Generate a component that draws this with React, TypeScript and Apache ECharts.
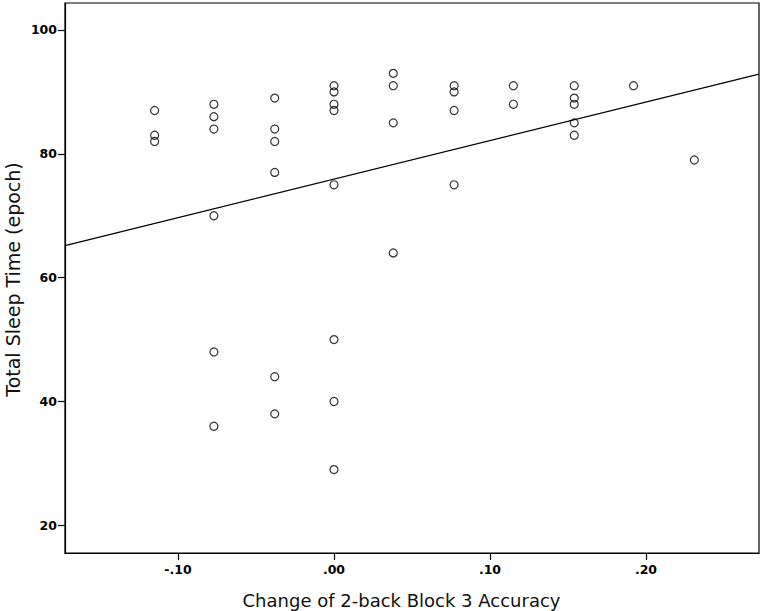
import React, { useEffect, useRef } from "react";
import * as echarts from "echarts";

// Change of 2-back Block 3 Accuracy (x) paired with Total Sleep Time in epochs (y)
const accuracyChange = [
  -0.115, -0.115, -0.115,
  -0.077, -0.077, -0.077, -0.077, -0.077, -0.077,
  -0.038, -0.038, -0.038, -0.038, -0.038, -0.038,
  0, 0, 0, 0, 0, 0, 0, 0,
  0.038, 0.038, 0.038, 0.038,
  0.077, 0.077, 0.077, 0.077,
  0.115, 0.115,
  0.154, 0.154, 0.154, 0.154, 0.154,
  0.192,
  0.231,
];
const totalSleep = [
  87, 83, 82,
  88, 86, 84, 70, 48, 36,
  89, 84, 82, 77, 44, 38,
  91, 90, 88, 87, 75, 50, 40, 29,
  93, 91, 85, 64,
  91, 90, 87, 75,
  91, 88,
  91, 89, 88, 85, 83,
  91,
  79,
];
const xTicks = [-0.1, 0, 0.1, 0.2];
const yTicks = [20, 40, 60, 80, 100];
const xRange = [-0.17244, 0.27244];
const yRange = [15.53, 104.36];
const xTitle = "Change of 2-back Block 3 Accuracy";
const yTitle = "Total Sleep Time (epoch)";

function fitLine(xs: number[], ys: number[]) {
  const n = xs.length;
  const mx = xs.reduce((a, b) => a + b, 0) / n;
  const my = ys.reduce((a, b) => a + b, 0) / n;
  let sxy = 0;
  let sxx = 0;
  for (let i = 0; i < n; i++) {
    sxy += (xs[i] - mx) * (ys[i] - my);
    sxx += (xs[i] - mx) * (xs[i] - mx);
  }
  const b = sxy / sxx;
  const a = my - b * mx;
  return { a, b };
}

function fmtX(v: number) {
  const s = v.toFixed(2);
  return s.replace(/^(-?)0\./, "$1.");
}

export default function App() {
  const ref = useRef<HTMLDivElement>(null);
  useEffect(() => {
    if (!ref.current) return;
    const chart = echarts.init(ref.current, undefined, { renderer: "svg" });
    const points = accuracyChange.map((x, i) => [x, totalSleep[i]]);
    const { a, b } = fitLine(accuracyChange, totalSleep);
    const linePts = xRange.map((x) => [x, a + b * x]);
    const tickFont = {
      fontFamily: "DejaVu Sans",
      fontWeight: "bold" as const,
      fontSize: 12.5,
      color: "#000",
    };
    chart.setOption({
      animation: false,
      backgroundColor: "#fff",
      grid: {
        left: 65,
        right: 3,
        top: 3,
        bottom: 58,
        show: true,
        borderColor: "#000",
        borderWidth: 1.2,
        backgroundColor: "transparent",
      },
      xAxis: {
        type: "value",
        min: xRange[0],
        max: xRange[1],
        splitLine: { show: false },
        axisLine: { show: true, onZero: false, lineStyle: { color: "#000", width: 1.2 } },
        axisTick: {
          show: true,
          length: 7,
          customValues: xTicks,
          lineStyle: { color: "#000", width: 1.2 },
        },
        axisLabel: {
          ...tickFont,
          margin: 10,
          customValues: xTicks,
          formatter: (v: number) => fmtX(v),
        },
      },
      yAxis: {
        type: "value",
        min: yRange[0],
        max: yRange[1],
        splitLine: { show: false },
        axisLine: { show: true, onZero: false, lineStyle: { color: "#000", width: 1.2 } },
        axisTick: {
          show: true,
          length: 7,
          customValues: yTicks,
          lineStyle: { color: "#000", width: 1.2 },
        },
        axisLabel: {
          ...tickFont,
          margin: 8,
          customValues: yTicks,
          formatter: (v: number) => String(v),
        },
      },
      graphic: [
        {
          type: "text",
          x: 401.5,
          y: 600,
          style: {
            text: xTitle,
            fontFamily: "DejaVu Sans",
            fontSize: 18,
            fill: "#111",
            align: "center",
            verticalAlign: "middle",
          },
        },
        {
          type: "text",
          x: 12.5,
          y: 279.5,
          rotation: Math.PI / 2,
          style: {
            text: yTitle,
            fontFamily: "DejaVu Sans",
            fontSize: 19,
            fill: "#111",
            align: "center",
            verticalAlign: "middle",
          },
        },
      ],
      series: [
        {
          type: "line",
          data: linePts,
          showSymbol: false,
          symbol: "none",
          lineStyle: { color: "#000", width: 1.2 },
          silent: true,
          z: 1,
        },
        {
          type: "scatter",
          data: points,
          symbol: "circle",
          symbolSize: 8,
          itemStyle: {
            color: "rgba(0,0,0,0)",
            borderColor: "#000",
            borderWidth: 1.2,
          },
          z: 2,
        },
      ],
    });
    return () => chart.dispose();
  }, []);
  return (
    <div
      ref={ref}
      style={{ position: "fixed", left: 0, top: 0, width: 762, height: 611 }}
    />
  );
}
